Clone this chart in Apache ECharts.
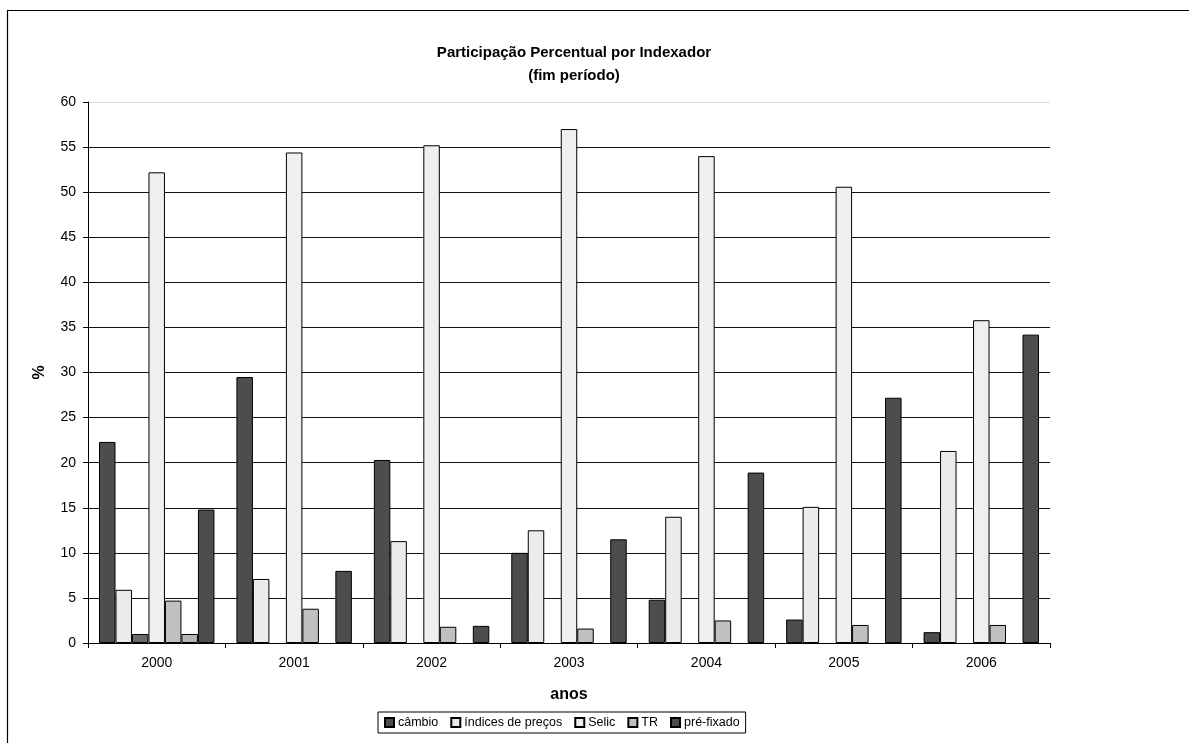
<!DOCTYPE html>
<html>
<head>
<meta charset="utf-8">
<script src="https://cdn.jsdelivr.net/npm/echarts@6/dist/echarts.min.js"></script>
<style>
  html, body { margin: 0; padding: 0; background: #fff; }
  #chart { width: 1189px; height: 743px; }
</style>
</head>
<body>
<div id="chart"></div>
<script>
// Anos (categorias do eixo x)
const anos = ['2000', '2001', '2002', '2003', '2004', '2005', '2006'];

// Participação percentual por indexador (fim de período)
const cambio   = [22.3, 29.5, 20.3, 10.0, 4.8, 2.6, 1.2];
const indices  = [5.9, 7.1, 11.3, 12.5, 14.0, 15.1, 21.3];
const outros1  = [1.0, null, null, null, null, null, null];
const selic    = [52.2, 54.4, 55.2, 57.0, 54.0, 50.6, 35.8];
const tr       = [4.7, 3.8, 1.8, 1.6, 2.5, 2.0, 2.0];
const outros2  = [1.0, null, null, null, null, null, null];
const prefixado = [14.8, 8.0, 1.9, 11.5, 18.9, 27.2, 34.2];

const yTicks = [0, 5, 10, 15, 20, 25, 30, 35, 40, 45, 50, 55, 60];

const font = 'Liberation Sans, Arial, sans-serif';

function bar(name, data, color) {
  return {
    name: name,
    type: 'bar',
    data: data,
    barGap: '0%',
    barCategoryGap: '16%',
    itemStyle: { color: color, borderColor: '#000', borderWidth: 1 },
    emphasis: { disabled: true }
  };
}

const chart = echarts.init(document.getElementById('chart'), null, { renderer: 'canvas' });

// grid line colours, one per tick (top line lighter)
const gridColors = yTicks.map((v, i) => i === yTicks.length - 1 ? '#d8d8d8' : '#111');

chart.setOption({
  animation: false,
  backgroundColor: '#fff',
  textStyle: { fontFamily: font },
  title: {
    text: 'Participação Percentual por Indexador\n(fim período)',
    left: 569,
    top: 36,
    textAlign: 'center',
    textStyle: { fontFamily: font, fontSize: 15, fontWeight: 'bold', color: '#000', lineHeight: 23 }
  },
  legend: {
    data: ['câmbio', 'índices de preços', 'Selic', 'TR', 'pré-fixado'],
    left: 378,
    top: 712,
    borderColor: '#000',
    borderWidth: 1,
    padding: [4, 6, 4, 6],
    itemGap: 12,
    itemWidth: 9,
    itemHeight: 9,
    icon: 'rect',
    textStyle: { fontFamily: font, fontSize: 12.5, color: '#000', padding: [0, 0, 0, -1] }
  },
  grid: { left: 88, right: 139, top: 102, bottom: 100, containLabel: false },
  xAxis: {
    type: 'category',
    data: anos,
    name: 'anos',
    nameLocation: 'middle',
    nameGap: 44,
    nameTextStyle: { fontFamily: font, fontSize: 16, fontWeight: 'bold', color: '#000' },
    axisLine: { lineStyle: { color: '#000', width: 1 } },
    axisTick: { show: true, length: 5, lineStyle: { color: '#000' } },
    axisLabel: { fontFamily: font, fontSize: 14, color: '#000', margin: 13 }
  },
  yAxis: {
    type: 'value',
    min: 0,
    max: 60,
    interval: 5,
    name: '%',
    nameLocation: 'middle',
    nameGap: 40,
    nameRotate: 90,
    nameTextStyle: { fontFamily: font, fontSize: 16, fontWeight: 'bold', color: '#000' },
    axisLine: { show: true, lineStyle: { color: '#000', width: 1 } },
    axisTick: { show: true, length: 5, lineStyle: { color: '#000' } },
    axisLabel: { fontFamily: font, fontSize: 14, color: '#000', margin: 12 },
    splitLine: { show: true, lineStyle: { color: gridColors, width: 1 } }
  },
  graphic: [{
    type: 'rect',
    shape: { x: 7.5, y: 10.5, width: 1300, height: 900 },
    style: { fill: 'none', stroke: '#000', lineWidth: 1.2 },
    silent: true,
    z: -1
  }],
  series: [
    bar('câmbio', cambio, '#4d4d4d'),
    bar('índices de preços', indices, '#ebebeb'),
    bar('outros', outros1, '#6a6a6a'),
    bar('Selic', selic, '#efefef'),
    bar('TR', tr, '#c0c0c0'),
    bar('demais', outros2, '#b4b4b4'),
    bar('pré-fixado', prefixado, '#4d4d4d')
  ]
});
</script>
</body>
</html>
